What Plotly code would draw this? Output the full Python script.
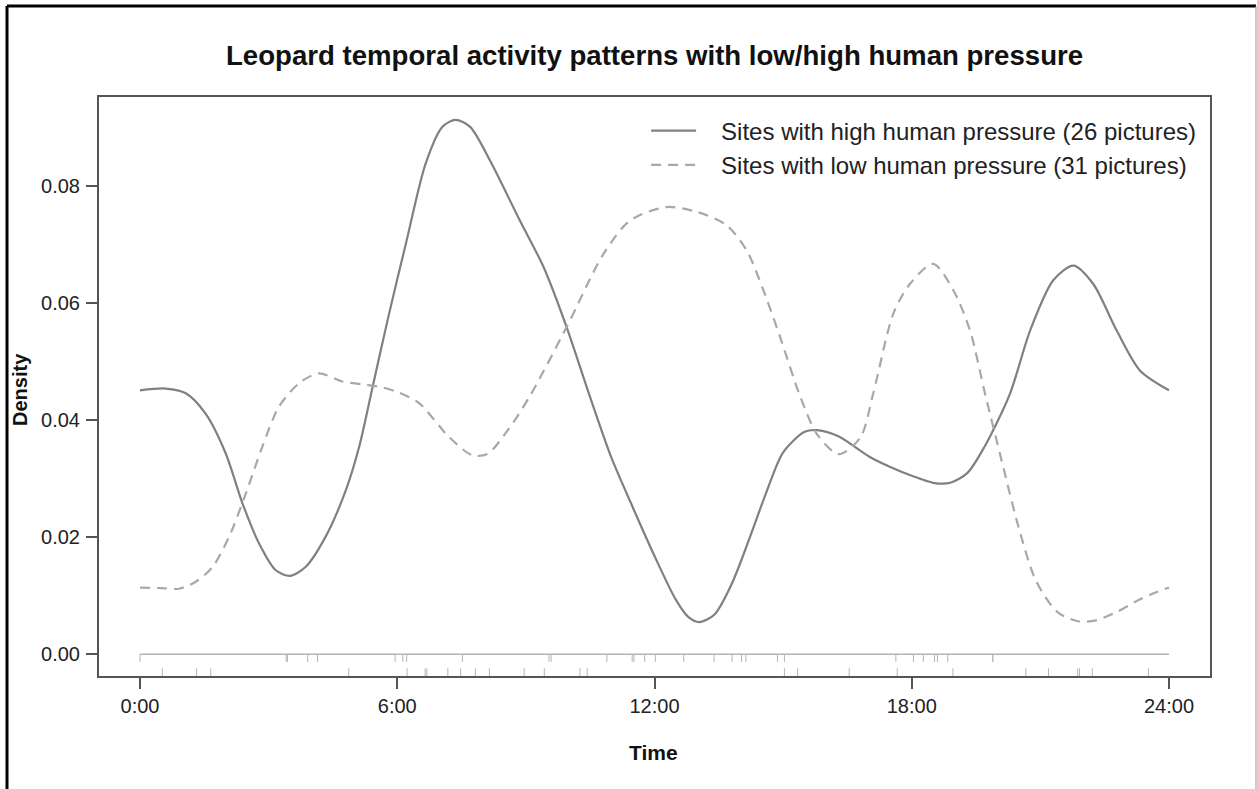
import plotly.graph_objects as go

# ---------------- data ----------------
high_t = [0.0, 0.6, 1.07, 1.53, 2.0, 2.39, 2.78, 3.16, 3.5, 3.86, 4.33, 4.8, 5.11, 5.42,
          5.81, 6.2, 6.66, 7.05, 7.36, 7.7, 8.16, 8.86, 9.41, 9.95, 10.5, 11.0, 11.5, 12.0,
          12.5, 12.8, 13.05, 13.4, 13.8, 14.2, 14.6, 15.0, 15.5, 15.8, 16.3, 17.0, 17.5,
          18.0, 18.5, 18.9, 19.3, 19.7, 20.29, 20.76, 21.3, 21.77, 22.23, 22.78, 23.32, 24.0]
high_d = [0.0451, 0.0454, 0.0446, 0.0411, 0.0343, 0.0258, 0.0189, 0.0144, 0.0134, 0.0149,
          0.0201, 0.0280, 0.0354, 0.0455, 0.0582, 0.0701, 0.0838, 0.0901, 0.0913, 0.0901,
          0.0844, 0.0741, 0.0662, 0.0559, 0.0439, 0.0335, 0.0250, 0.0168, 0.0093, 0.0063,
          0.0055, 0.0068, 0.0120, 0.0195, 0.0275, 0.0345, 0.0380, 0.0383, 0.0372, 0.0338,
          0.0320, 0.0305, 0.0293, 0.0293, 0.0310, 0.0355, 0.0445, 0.0553, 0.0639, 0.0664,
          0.0633, 0.0553, 0.0485, 0.0451]

low_t = [0.0, 0.5, 0.91, 1.3, 1.69, 2.08, 2.47, 2.85, 3.24, 3.71, 4.17, 4.72, 5.2, 5.65,
         6.04, 6.51, 7.21, 7.75, 8.1, 8.6, 9.1, 9.95, 10.81, 11.43, 12.28, 12.98, 13.68,
         14.15, 14.54, 14.93, 15.39, 15.8, 16.3, 16.8, 17.1, 17.57, 17.96, 18.5, 18.97,
         19.36, 19.71, 20.1, 20.5, 20.9, 21.4, 21.9, 22.3, 22.8, 23.3, 23.7, 24.0]
low_d = [0.0114, 0.0113, 0.0112, 0.0124, 0.0149, 0.0201, 0.0275, 0.0354, 0.0423, 0.0463,
         0.0480, 0.0466, 0.0461, 0.0456, 0.0447, 0.0429, 0.0371, 0.0340, 0.0342, 0.0385,
         0.0442, 0.0559, 0.0684, 0.0741, 0.0764, 0.0756, 0.0733, 0.0690, 0.0622, 0.0542,
         0.0442, 0.0375, 0.0342, 0.0370, 0.0445, 0.0582, 0.0633, 0.0667, 0.0622, 0.0553,
         0.0445, 0.0330, 0.0215, 0.0125, 0.0072, 0.0056, 0.0058, 0.0073, 0.0093, 0.0106,
         0.0114]

# observation times (rug)
high_obs = [0.52, 1.32, 1.65, 4.87, 6.23, 6.65, 6.69, 7.18, 7.48, 7.82, 8.15, 8.96, 9.43,
            10.26, 10.43, 15.03, 15.34, 16.54, 17.66, 18.96, 20.66, 21.19, 21.87, 21.91,
            22.21, 23.52]
low_obs = [0.0, 3.41, 3.44, 3.91, 4.14, 5.95, 6.13, 6.22, 7.52, 9.54, 9.59, 10.89, 11.48,
           11.52, 11.77, 12.02, 12.68, 13.39, 13.81, 14.03, 14.13, 14.87, 15.03, 17.63,
           18.04, 18.27, 18.53, 18.60, 18.84, 19.89, 19.89]

x_tickvals = [0, 6, 12, 18, 24]
x_ticktext = ["0:00", "6:00", "12:00", "18:00", "24:00"]
y_tickvals = [0.0, 0.02, 0.04, 0.06, 0.08]
y_ticktext = ["0.00", "0.02", "0.04", "0.06", "0.08"]

title = "Leopard temporal activity patterns with low/high human pressure"
label_high = "Sites with high human pressure (26 pictures)"
label_low = "Sites with low human pressure (31 pictures)"

# ---------------- styling ----------------
FONT = "Liberation Sans, Arial, Helvetica, sans-serif"
SOLID_COL = "#808080"
DASH_COL = "#a8a8a8"
RUG_COL = "#b4b4b4"
FRAME_COL = "#555555"
UPPER = (0.0, -0.0013)
LOWER = (-0.0024, -0.0038)
GAP = "\u00a0\u00a0\u00a0"


def rug(times, y0, y1):
    xs, ys = [], []
    for t in times:
        xs += [t, t, None]
        ys += [y0, y1, None]
    return xs, ys


fig = go.Figure()

# baseline
fig.add_trace(go.Scatter(x=[0, 24], y=[0, 0], mode="lines",
                         line=dict(color=RUG_COL, width=1.5), showlegend=False,
                         hoverinfo="skip"))
rx, ry = rug(low_obs, *UPPER)
fig.add_trace(go.Scatter(x=rx, y=ry, mode="lines", line=dict(color=RUG_COL, width=1),
                         showlegend=False, hoverinfo="skip"))
rx, ry = rug(high_obs, *LOWER)
fig.add_trace(go.Scatter(x=rx, y=ry, mode="lines", line=dict(color=RUG_COL, width=1),
                         showlegend=False, hoverinfo="skip"))

fig.add_trace(go.Scatter(x=high_t, y=high_d, mode="lines", name=GAP + label_high,
                         line=dict(color=SOLID_COL, width=2.2, shape="spline",
                                   smoothing=0.8)))
fig.add_trace(go.Scatter(x=low_t, y=low_d, mode="lines", name=GAP + label_low,
                         line=dict(color=DASH_COL, width=2.2, dash="10px,7px",
                                   shape="spline", smoothing=0.8)))

axis_common = dict(showline=True, mirror=True, linecolor=FRAME_COL, linewidth=2,
                   ticks="outside", tickcolor=FRAME_COL, tickwidth=1.5, ticklen=11,
                   showgrid=False, zeroline=False,
                   tickfont=dict(family=FONT, size=20, color="#222222"))

fig.update_xaxes(range=[-0.956, 24.956], tickvals=x_tickvals, ticktext=x_ticktext,
                 **axis_common)
fig.update_yaxes(range=[-0.00371, 0.09521], tickvals=y_tickvals, ticktext=y_ticktext,
                 ticklabelstandoff=2, **axis_common)

fig.update_layout(
    width=1257, height=789,
    margin=dict(l=99, r=47, t=97, b=113),
    paper_bgcolor="white", plot_bgcolor="white",
    showlegend=True,
    legend=dict(x=0.992, xanchor="right", y=0.98, yanchor="top",
                bgcolor="rgba(0,0,0,0)", font=dict(family=FONT, size=24, color="#222222"),
                itemwidth=45, tracegroupgap=0),
    annotations=[
        dict(text="<b>" + title + "</b>", x=0.5, y=1.0725, xref="paper", yref="paper",
             showarrow=False, font=dict(family=FONT, size=27.6, color="#111111"),
             xanchor="center", yanchor="middle"),
        dict(text="<b>Time</b>", x=0.4995, y=-0.1313, xref="paper", yref="paper",
             showarrow=False, font=dict(family=FONT, size=21, color="#111111"),
             xanchor="center", yanchor="middle"),
        dict(text="<b>Density</b>", x=-0.0711, y=0.494, xref="paper", yref="paper",
             showarrow=False, textangle=-90, font=dict(family=FONT, size=20, color="#111111"),
             xanchor="center", yanchor="middle"),
    ],
    shapes=[
        dict(type="line", xref="paper", yref="paper", x0=-0.0828, x1=-0.0828,
             y0=1.1572, y1=-0.25, line=dict(color="black", width=3)),
        dict(type="line", xref="paper", yref="paper", x0=-0.0828, x1=1.0414,
             y0=1.1572, y1=1.1572, line=dict(color="black", width=3)),
        dict(type="line", xref="paper", yref="paper", x0=1.0414, x1=1.0414,
             y0=1.1572, y1=-0.25, line=dict(color="#999999", width=1)),
    ],
)

fig.write_html("out.html")
